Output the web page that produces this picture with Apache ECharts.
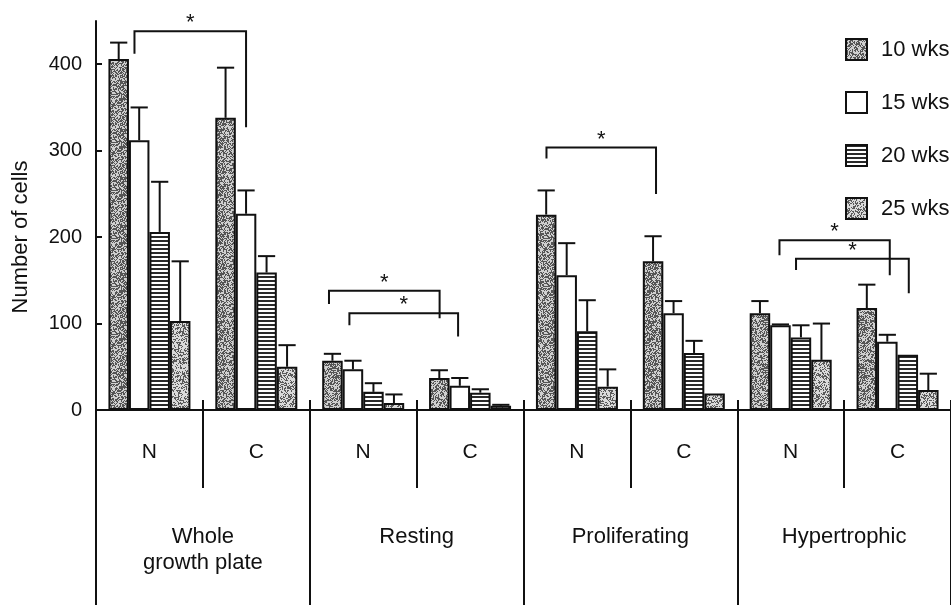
<!DOCTYPE html>
<html>
<head>
<meta charset="utf-8">
<script src="https://cdn.jsdelivr.net/npm/echarts@6/dist/echarts.min.js"></script>
<style>
html,body{margin:0;padding:0;background:#fff;}
#chart{width:951px;height:605px;}
</style>
</head>
<body>
<div id="chart"></div>
<script>
// ---- data ----
const categories = ['N', 'C', 'N', 'C', 'N', 'C', 'N', 'C'];
const regions = ['Whole\ngrowth plate', 'Resting', 'Proliferating', 'Hypertrophic'];
const seriesNames = ['10 wks', '15 wks', '20 wks', '25 wks'];
const yTicks = [0, 100, 200, 300, 400];
const yTitle = 'Number of cells';

const wk10    = [406, 338, 57, 37, 226, 172, 112, 118];
const wk10Err = [425, 396, 65, 46, 254, 201, 126, 145];
const wk15    = [312, 227, 47, 28, 156, 112, 98, 79];
const wk15Err = [350, 254, 57, 37, 193, 126, 99, 87];
const wk20    = [206, 159, 21, 20, 91, 66, 84, 64];
const wk20Err = [264, 178, 31, 24, 127, 80, 98, 64];
const wk25    = [103, 50, 8, 5, 27, 19, 58, 23];
const wk25Err = [172, 75, 18, 6, 47, 19, 100, 42];

// significance brackets: [left (category units), right, top value, left leg end, right leg end]
const brackets = [
  [0.36, 1.404, 438, 412, 327],
  [2.18, 3.215, 138, 122.5, 106],
  [2.371, 3.388, 112, 98, 85],
  [4.215, 5.24, 303.6, 291, 250],
  [6.395, 7.427, 196.5, 179, 156],
  [6.55, 7.605, 175, 162, 135]
];
const sigMark = '*';

const values = [wk10, wk15, wk20, wk25];
const errs = [wk10Err, wk15Err, wk20Err, wk25Err];

// ---- textures ----
function hash(x, y, s) {
  let h = Math.imul(x + 1, 374761393) ^ Math.imul(y + 7, 668265263) ^ Math.imul(s, 2246822519);
  h = Math.imul(h ^ (h >>> 13), 1274126177);
  h = h ^ (h >>> 16);
  return (h >>> 0) / 4294967296;
}
function stipple(density, seed, dark, light) {
  const c = document.createElement('canvas');
  c.width = 48; c.height = 48;
  const ctx = c.getContext('2d');
  ctx.fillStyle = light; ctx.fillRect(0, 0, 48, 48);
  ctx.fillStyle = dark;
  for (let y = 0; y < 48; y++) for (let x = 0; x < 48; x++) {
    if (hash(x, y, seed) < density) ctx.fillRect(x, y, 1, 1);
  }
  return c;
}
function stripes() {
  const c = document.createElement('canvas');
  c.width = 8; c.height = 4;
  const ctx = c.getContext('2d');
  ctx.fillStyle = '#fff'; ctx.fillRect(0, 0, 8, 4);
  ctx.fillStyle = '#2a2a2a'; ctx.fillRect(0, 0, 8, 2);
  return c;
}
const fills = [
  { image: stipple(0.5, 3, '#555', '#cfcfcf'), repeat: 'repeat' },
  '#ffffff',
  { image: stripes(), repeat: 'repeat' },
  { image: stipple(0.4, 11, '#5a5a5a', '#dadada'), repeat: 'repeat' }
];

const BAR_W = 20.5;
const INK = '#111';
const FONT = '"Liberation Sans", Arial, Helvetica, sans-serif';

const chart = echarts.init(document.getElementById('chart'), null, { renderer: 'canvas' });

const series = [];
seriesNames.forEach((name, k) => {
  series.push({
    name: name,
    type: 'bar',
    xAxisIndex: 0,
    barWidth: BAR_W,
    barGap: '0%',
    data: values[k],
    itemStyle: { color: fills[k], borderColor: INK, borderWidth: 2 },
    emphasis: { disabled: true },
    z: 2
  });
});
seriesNames.forEach((name, k) => {
  series.push({
    type: 'custom',
    xAxisIndex: 0,
    z: 4,
    clip: false,
    silent: true,
    data: values[k].map((v, i) => [i, v, errs[k][i]]),
    encode: { x: 0, y: 1 },
    renderItem: function (params, api) {
      const i = api.value(0), v = api.value(1), e = api.value(2);
      if (!(e > v)) return null;
      const base = api.coord([i, v]);
      const top = api.coord([i, e]);
      const x = base[0] + (k - 1.5) * BAR_W;
      const half = BAR_W * 0.42;
      return {
        type: 'group',
        children: [
          { type: 'line', shape: { x1: x, y1: base[1], x2: x, y2: top[1] }, style: { stroke: INK, lineWidth: 2 } },
          { type: 'line', shape: { x1: x - half, y1: top[1], x2: x + half, y2: top[1] }, style: { stroke: INK, lineWidth: 2 } }
        ]
      };
    }
  });
});
series.push({
  type: 'custom',
  xAxisIndex: 0,
  z: 5,
  clip: false,
  silent: true,
  data: brackets.map(b => [0, b[0], b[1], b[2], b[3], b[4]]),
  encode: { x: 0, y: 3 },
  renderItem: function (params, api) {
    const bw = api.size([1, 0])[0];
    const x0 = api.coord([0, 0])[0] - bw / 2;
    const xl = x0 + api.value(1) * bw;
    const xr = x0 + api.value(2) * bw;
    const yt = api.coord([0, api.value(3)])[1];
    const yl = api.coord([0, api.value(4)])[1];
    const yr = api.coord([0, api.value(5)])[1];
    return {
      type: 'group',
      children: [
        { type: 'polyline', shape: { points: [[xl, yl], [xl, yt], [xr, yt], [xr, yr]] },
          style: { stroke: INK, lineWidth: 2, fill: null } },
        { type: 'text', x: (xl + xr) / 2, y: yt - 19,
          style: { text: sigMark, font: '22px ' + FONT, fill: INK, align: 'center', verticalAlign: 'top' } }
      ]
    };
  }
});

const option = {
  backgroundColor: '#ffffff',
  animation: false,
  textStyle: { fontFamily: FONT, color: INK },
  grid: { left: 96, top: 21, width: 866, height: 389, containLabel: false },
  legend: {
    data: seriesNames,
    orient: 'vertical',
    left: 845,
    top: 38,
    padding: 0,
    itemWidth: 21,
    itemHeight: 21,
    itemGap: 30,
    icon: 'rect',
    selectedMode: false,
    itemStyle: { borderColor: INK, borderWidth: 2 },
    textStyle: { fontSize: 22, color: INK, padding: [0, 0, 0, 9] }
  },
  graphic: [{
    type: 'text',
    x: 21, y: 237,
    rotation: Math.PI / 2,
    style: { text: yTitle, font: '22px ' + FONT, fill: INK, align: 'center', verticalAlign: 'middle' }
  }],
  xAxis: [
    {
      type: 'category', data: categories, position: 'bottom',
      axisLine: { lineStyle: { color: INK, width: 2 } },
      axisTick: { show: true, inside: false, length: 78, lineStyle: { color: INK, width: 2 } },
      axisLabel: { fontSize: 21, color: INK, margin: 32 },
      splitLine: { show: false }
    },
    {
      type: 'category', data: categories, position: 'bottom',
      axisLine: { show: false },
      axisTick: { show: true, inside: true, length: 10, lineStyle: { color: INK, width: 2 } },
      axisLabel: { show: false },
      splitLine: { show: false }
    },
    {
      type: 'category', data: regions, position: 'bottom',
      axisLine: { show: false },
      axisTick: { show: true, inside: false, length: 200, lineStyle: { color: INK, width: 2 } },
      axisLabel: { fontSize: 22, lineHeight: 26, color: INK, margin: 114 },
      splitLine: { show: false }
    }
  ],
  yAxis: {
    type: 'value', min: 0, max: 450, interval: 100,
    axisLine: { show: true, lineStyle: { color: INK, width: 2 } },
    axisTick: { show: true, inside: true, length: 6, lineStyle: { color: INK, width: 2 }, customValues: yTicks },
    axisLabel: { fontSize: 20, color: INK, margin: 14, showMaxLabel: true, customValues: yTicks },
    splitLine: { show: false }
  },
  series: series
};
chart.setOption(option);
</script>
</body>
</html>
